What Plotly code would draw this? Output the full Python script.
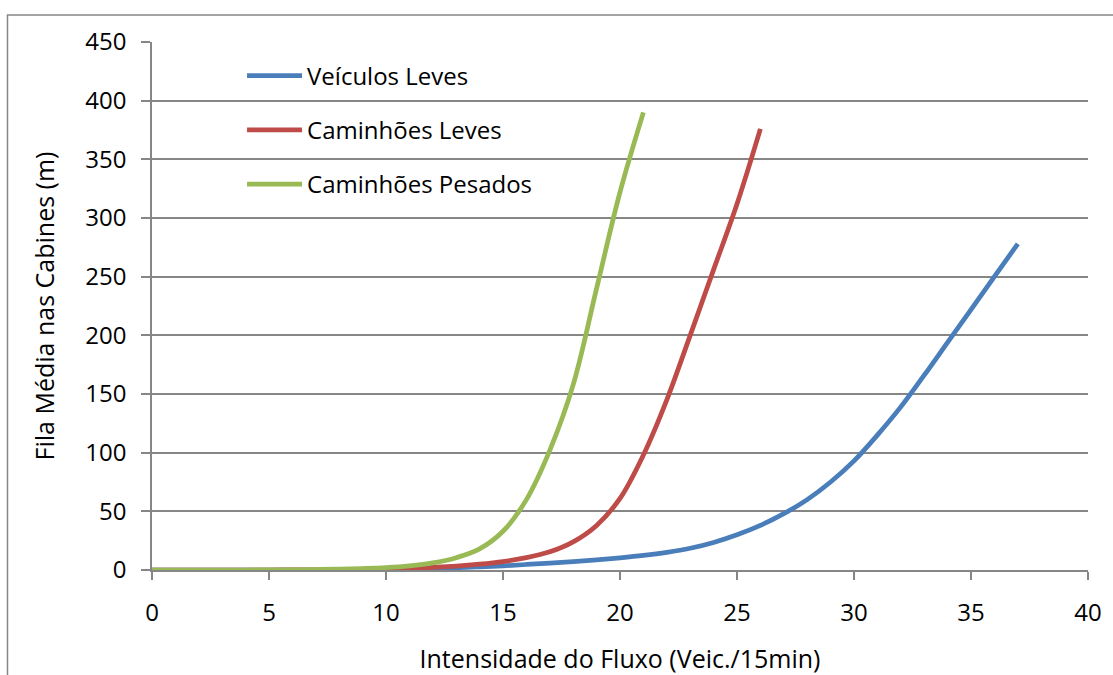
import plotly.graph_objects as go

# Traffic flow (vehicles per 15 min) vs. mean queue length at toll booths (m)
fluxo_leves = list(range(0, 38))
fila_leves = [0, 0, 0, 0, 0, 0, 0, 0, 0.1, 0.2,            # 0-9
              0.4, 0.8, 1.3, 1.9, 2.7, 3.6, 4.7, 5.9, 7.2, 8.7,   # 10-19
              10.4, 12.4, 15, 18.5, 23.5, 30, 38, 48, 60, 75,     # 20-29
              93, 115, 139, 166, 194, 222, 250, 278]              # 30-37

fluxo_cam_leves = list(range(0, 27))
fila_cam_leves = [0, 0, 0, 0, 0, 0, 0.1, 0.2, 0.4, 0.6,   # 0-9
                  0.9, 1.4, 2.3, 3.4, 5.0, 7.2, 10.5, 15.5, 24, 38,  # 10-19
                  61, 98, 145, 200, 256, 312, 376]                # 20-26

fluxo_cam_pesados = list(range(0, 22))
fila_cam_pesados = [0, 0, 0, 0, 0, 0.1, 0.2, 0.4, 0.7, 1.2,   # 0-9
                    2.0, 3.5, 6, 10.5, 18, 33, 60, 102, 158, 240,  # 10-19
                    322, 390]                                      # 20-21

assert len(fluxo_leves) == len(fila_leves)
assert len(fluxo_cam_leves) == len(fila_cam_leves)
assert len(fluxo_cam_pesados) == len(fila_cam_pesados)

series = [
    ("Veículos Leves", fluxo_leves, fila_leves, "#4A7EBB"),
    ("Caminhões Leves", fluxo_cam_leves, fila_cam_leves, "#BE4B48"),
    ("Caminhões Pesados", fluxo_cam_pesados, fila_cam_pesados, "#98B954"),
]

FONT = "Open Sans"
SIZE = 24
GRID = "#868686"

fig = go.Figure()
for i, (nome, xs, ys, cor) in enumerate(series):
    fig.add_trace(go.Scatter(
        x=xs, y=ys, name=nome, mode="lines",
        line=dict(color=cor, width=4.75, shape="spline", smoothing=1.0),
        legendgroup=f"g{i}",
    ))

fig.update_layout(
    width=1113, height=675,
    margin=dict(l=152, r=25, t=42, b=105, autoexpand=False),
    paper_bgcolor="white", plot_bgcolor="white",
    font=dict(family=FONT, size=SIZE, color="#000000"),
    showlegend=True,
    legend=dict(
        x=0.0962, y=0.978, xanchor="left", yanchor="top",
        bgcolor="rgba(0,0,0,0)", borderwidth=0,
        font=dict(family=FONT, size=SIZE, color="#000000"),
        tracegroupgap=20, itemwidth=55,
    ),
    xaxis=dict(
        range=[0, 40], dtick=5, tick0=0, automargin=False,
        showgrid=False, zeroline=False,
        showline=True, linecolor=GRID, linewidth=1.5,
        ticks="outside", ticklen=8, tickcolor=GRID, tickwidth=1.5,
        ticklabelstandoff=12,
        title=dict(text="Intensidade do Fluxo (Veic./15min)", standoff=26,
                   font=dict(family=FONT, size=25)),
    ),
    yaxis=dict(
        range=[0, 450], dtick=50, tick0=0, automargin=False,
        showgrid=True, gridcolor=GRID, gridwidth=1.5,
        zeroline=False,
        showline=True, linecolor=GRID, linewidth=1.5,
        ticks="outside", ticklen=9, tickcolor=GRID, tickwidth=1.5,
        ticklabelstandoff=10,
        title=dict(text="Fila Média nas Cabines (m)", standoff=24,
                   font=dict(family=FONT, size=25)),
    ),
    shapes=[dict(
        type="rect", xref="paper", yref="paper",
        x0=(7.5 - 152) / 936, x1=1.2, y0=-0.5, y1=(570 - 15) / 528,
        line=dict(color=GRID, width=1.5), fillcolor="rgba(0,0,0,0)", layer="below",
    )],
)

fig.write_html("out.html")
